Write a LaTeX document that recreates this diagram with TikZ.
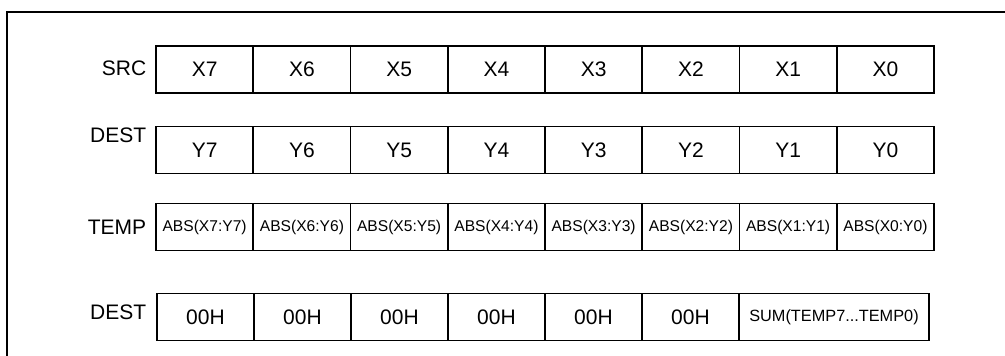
\documentclass[tikz,border=0pt]{standalone}
\usepackage{fontspec}
\setmainfont{Liberation Sans}

\begin{document}
\begin{tikzpicture}[x=1pt,y=-1pt,line width=1.6pt,
	cell/.style={draw,rectangle,inner sep=0pt,minimum width=97.3pt,minimum height=47pt,font=\fontsize{21}{24}\selectfont},
	abscell/.style={cell,font=\fontsize{15.6}{18}\selectfont},
	rowname/.style={anchor=east,inner sep=0pt,font=\fontsize{21}{24}\selectfont}]
		\useasboundingbox (0,0) rectangle (1005,356);
		\draw (7,360) -- (7,12) -- (1010,12);
		% source
		\node[rowname](src) at (147,68) {SRC};
		\node[cell](x7) at (204.6,69.5) {X7};
		\node[cell](x6) at (301.9,69.5) {X6};
		\node[cell](x5) at (399.1,69.5) {X5};
		\node[cell](x4) at (496.4,69.5) {X4};
		\node[cell](x3) at (593.6,69.5) {X3};
		\node[cell](x2) at (690.9,69.5) {X2};
		\node[cell](x1) at (788.1,69.5) {X1};
		\node[cell](x0) at (885.4,69.5) {X0};
		% destination
		\node[rowname](dest) at (147,135) {DEST};
		\node[cell](y7) at (204.6,150) {Y7};
		\node[cell](y6) at (301.9,150) {Y6};
		\node[cell](y5) at (399.1,150) {Y5};
		\node[cell](y4) at (496.4,150) {Y4};
		\node[cell](y3) at (593.6,150) {Y3};
		\node[cell](y2) at (690.9,150) {Y2};
		\node[cell](y1) at (788.1,150) {Y1};
		\node[cell](y0) at (885.4,150) {Y0};
		% temp
		\node[rowname](temp) at (147,227) {TEMP};
		\node[abscell](t7) at (204.6,227) {ABS(X7:Y7)};
		\node[abscell](t6) at (301.9,227) {ABS(X6:Y6)};
		\node[abscell](t5) at (399.1,227) {ABS(X5:Y5)};
		\node[abscell](t4) at (496.4,227) {ABS(X4:Y4)};
		\node[abscell](t3) at (593.6,227) {ABS(X3:Y3)};
		\node[abscell](t2) at (690.9,227) {ABS(X2:Y2)};
		\node[abscell](t1) at (788.1,227) {ABS(X1:Y1)};
		\node[abscell](t0) at (885.4,227) {ABS(X0:Y0)};
		% result
		\node[rowname](res) at (147,312) {DEST};
		\node[cell,minimum width=97pt](r7) at (205.5,317) {00H};
		\node[cell,minimum width=97pt](r6) at (302.5,317) {00H};
		\node[cell,minimum width=97pt](r5) at (399.5,317) {00H};
		\node[cell,minimum width=97pt](r4) at (496.5,317) {00H};
		\node[cell,minimum width=97pt](r3) at (593.5,317) {00H};
		\node[cell,minimum width=97pt](r2) at (690.5,317) {00H};
		\node[abscell,minimum width=190pt,font=\fontsize{16.3}{19}\selectfont](sum) at (834,317) {SUM(TEMP7...TEMP0)};
	\end{tikzpicture}
\end{document}
